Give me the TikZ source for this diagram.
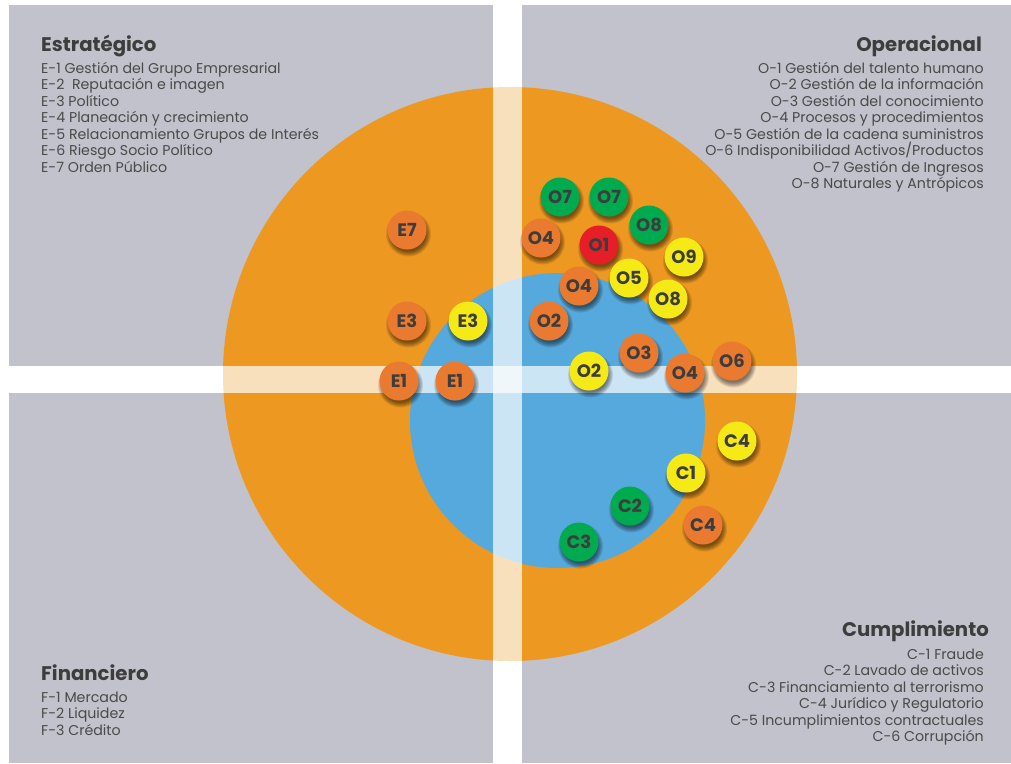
\documentclass[tikz,border=0pt]{standalone}
\usepackage{fontspec}
\setmainfont{Poppins}
\definecolor{quadgray}{HTML}{C1C2CB}
\definecolor{ringorange}{HTML}{ED9821}
\definecolor{coreblue}{HTML}{56A9DC}
\definecolor{dotorange}{HTML}{EA7A30}
\definecolor{dotyellow}{HTML}{F5EA16}
\definecolor{dotgreen}{HTML}{00AA4E}
\definecolor{dotred}{HTML}{E61E28}
\definecolor{titlegray}{HTML}{3D3D3D}
\definecolor{listgray}{HTML}{4A4A4A}
\tikzset{
  quad/.style={fill=quadgray},
  band/.style={fill=white, opacity=0.7},
  riskdot/.style={circle, minimum size=39pt, inner sep=0pt, text=titlegray,
    font=\bfseries\fontsize{18}{18}\selectfont},
  areatitle/.style={inner sep=0pt, text=titlegray, font=\bfseries\fontsize{19.7}{19.7}\selectfont},
  listL/.style={anchor=base west, inner sep=0pt, text=listgray, font=\fontsize{14.2}{14.2}\selectfont},
  listR/.style={anchor=base east, inner sep=0pt, text=listgray, font=\fontsize{14.2}{14.2}\selectfont},
}
% soft drop shadow followed by the coloured risk marker
\newcommand\riskmark[5]{%
  \foreach \k in {0,...,5}{\fill[black, opacity=0.1] (#2+1.5,#3+4) circle[radius={(22.5-\k)*1pt}];}
  \node[riskdot, fill=#4] (#1) at (#2,#3) {#5};
}
\begin{document}
\begin{tikzpicture}[x=1pt, y=-1pt]
\useasboundingbox (0,0) rectangle (1011,763);
\fill[white] (0,0) rectangle (1011,763);

% four category quadrants
\fill[quad] (9,5) rectangle (493,366);
\fill[quad] (522,5) rectangle (1011,366);
\fill[quad] (9,393) rectangle (493,763);
\fill[quad] (522,393) rectangle (1011,763);

% risk zones
\fill[ringorange] (510,374) circle[radius=287pt];
\fill[coreblue] (557.5,420.5) circle[radius=147.5pt];

% translucent cross separating the quadrants
\fill[band] (0,366) rectangle (1011,393);
\fill[band] (493,0) rectangle (522,763);

% category titles
\node[areatitle, anchor=base west] (tE) at (41,51) {Estratégico};
\node[areatitle, anchor=base east] (tO) at (982,51) {Operacional};
\node[areatitle, anchor=base west] (tF) at (41,680) {Financiero};
\node[areatitle, anchor=base east] (tC) at (989,636) {Cumplimiento};

% category lists
\foreach \t [count=\i] in {E-1 Gestión del Grupo Empresarial, E-2 \ Reputación e imagen,
  E-3 Político, E-4 Planeación y crecimiento, E-5 Relacionamiento Grupos de Interés,
  E-6 Riesgo Socio Político, E-7 Orden Público}
  \node[listL] (le\i) at (41,{73+16.5*(\i-1)}) {\t};

\foreach \t [count=\i] in {O-1 Gestión del talento humano, O-2 Gestión de la información,
  O-3 Gestión del conocimiento, O-4 Procesos y procedimientos,
  O-5 Gestión de la cadena suministros, O-6 Indisponibilidad Activos/Productos,
  O-7 Gestión de Ingresos, O-8 Naturales y Antrópicos}
  \node[listR] (lo\i) at (984,{73+16.5*(\i-1)}) {\t};

\foreach \t [count=\i] in {F-1 Mercado, F-2 Liquidez, F-3 Crédito}
  \node[listL] (lf\i) at (41,{702+16.5*(\i-1)}) {\t};

\foreach \t [count=\i] in {C-1 Fraude, C-2 Lavado de activos, C-3 Financiamiento al terrorismo,
  C-4 Jurídico y Regulatorio, C-5 Incumplimientos contractuales, C-6 Corrupción}
  \node[listR] (lc\i) at (984,{659+16.5*(\i-1)}) {\t};

% strategic risks
\riskmark{e7}{407}{230}{dotorange}{E7}
\riskmark{e3a}{407}{321}{dotorange}{E3}
\riskmark{e3b}{468}{321}{dotyellow}{E3}
\riskmark{e1a}{399}{381}{dotorange}{E1}
\riskmark{e1b}{455}{381}{dotorange}{E1}

% operational risks
\riskmark{o7a}{560}{197}{dotgreen}{O7}
\riskmark{o7b}{609}{197}{dotgreen}{O7}
\riskmark{o8a}{649}{225}{dotgreen}{O8}
\riskmark{o4a}{541}{238}{dotorange}{O4}
\riskmark{o1}{599}{245}{dotred}{O1}
\riskmark{o9}{684}{257}{dotyellow}{O9}
\riskmark{o5}{629}{278}{dotyellow}{O5}
\riskmark{o4b}{579}{286}{dotorange}{O4}
\riskmark{o8b}{668}{299}{dotyellow}{O8}
\riskmark{o2a}{549}{321}{dotorange}{O2}
\riskmark{o3}{639}{353}{dotorange}{O3}
\riskmark{o6}{732}{361}{dotorange}{O6}
\riskmark{o2b}{589}{371}{dotyellow}{O2}
\riskmark{o4c}{685}{373}{dotorange}{O4}

% compliance risks
\riskmark{c4a}{737}{441}{dotyellow}{C4}
\riskmark{c1}{686}{473}{dotyellow}{C1}
\riskmark{c2}{630}{506}{dotgreen}{C2}
\riskmark{c4b}{703}{525}{dotorange}{C4}
\riskmark{c3}{579}{542}{dotgreen}{C3}
\end{tikzpicture}
\end{document}
